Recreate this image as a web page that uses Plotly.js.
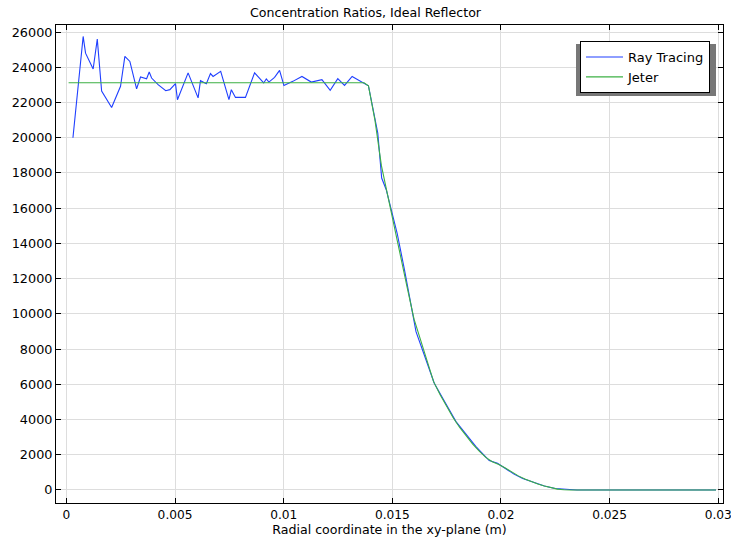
<!DOCTYPE html>
<html>
<head>
<meta charset="utf-8">
<script src="https://cdn.plot.ly/plotly-3.0.1.min.js"></script>
<style>html,body{margin:0;padding:0;background:#fff;}#chart{width:731px;height:541px;}</style>
</head>
<body>
<div id="chart"></div>
<script>
const rayX = [0.0003,0.00077,0.00088,0.00123,0.00142,0.00162,0.00208,0.00249,0.00269,0.00292,
  0.00323,0.00341,0.00369,0.00381,0.00392,0.00422,0.00457,0.00476,0.00502,0.00511,
  0.0056,0.00606,0.00617,0.00644,0.00663,0.00675,0.0071,0.00748,0.00759,0.00778,
  0.00824,0.00866,0.00908,0.0092,0.00932,0.00958,0.00981,0.01001,0.01042,0.01084,
  0.01127,0.01176,0.01214,0.01249,0.0128,0.01315,0.0139,0.01433,0.01451,0.01472,
  0.01522,0.01556,0.01609,0.01647,0.01693,0.01732,0.01793,0.01885,0.01946,0.01984,
  0.02023,0.0206,0.021,0.0215,0.022,0.0225,0.023,0.0235,0.025,0.027,0.0299];
const rayY = [20000,25750,24800,23900,25600,22650,21720,22920,24620,24330,
  22770,23450,23350,23730,23390,23010,22670,22730,23070,22160,
  23680,22260,23240,23070,23640,23480,23770,22160,22730,22290,
  22290,23680,23110,23340,23160,23430,23820,22970,23200,23480,
  23160,23300,22690,23350,22970,23480,22950,20270,17710,17050,
  14590,12500,8990,7670,6060,5210,3880,2460,1670,1520,
  1190,900,650,420,230,80,20,0,0,0,0];

const jeterX = [0.0001,0.0137,0.0139,0.0142,0.0145,0.0148,0.0151,0.0154,0.0157,0.016,
  0.0163,0.0166,0.0169,0.0172,0.0175,0.0178,0.0181,0.0184,0.0187,0.019,
  0.0193,0.0196,0.0199,0.0202,0.0205,0.0208,0.0211,0.0214,0.0217,0.022,
  0.0223,0.0226,0.0229,0.0232,0.025,0.0299];
const jeterY = [23125,23125,22950,21000,18400,16600,14900,13100,11400,9700,
  8500,7300,6150,5400,4750,4100,3550,3050,2600,2200,
  1850,1600,1450,1250,1000,800,620,470,340,230,
  120,50,15,0,0,0];

const traces = [
  {x: rayX, y: rayY, type: 'scatter', mode: 'lines', name: 'Ray Tracing',
   line: {color: '#1f3fff', width: 1.1}},
  {x: jeterX, y: jeterY, type: 'scatter', mode: 'lines', name: 'Jeter',
   line: {color: '#3cb044', width: 1.1}}
];

const fam = 'DejaVu Sans, sans-serif';
const tickFnt = {family: fam, size: 12.8, color: '#000'};
const xTickFnt = {family: fam, size: 12.2, color: '#000'};
const titleFnt = {family: fam, size: 12.6, color: '#000'};
const layout = {
  width: 731, height: 541,
  margin: {l: 56, r: 8, t: 25, b: 38},
  paper_bgcolor: '#fff', plot_bgcolor: '#fff',
  font: tickFnt,
  title: {text: 'Concentration Ratios, Ideal Reflector', font: titleFnt,
    x: 0.5, xanchor: 'center', y: 0.985, yanchor: 'top'},
  xaxis: {range: [-0.00048, 0.03022], dtick: 0.005, tick0: 0, showgrid: true, gridcolor: '#dddddd',
    zeroline: false, showline: true, linecolor: '#000', linewidth: 1, mirror: 'ticks',
    ticks: 'inside', ticklen: 5, tickcolor: '#000', tickfont: xTickFnt, ticklabeloverflow: 'allow',
    title: {text: 'Radial coordinate in the xy-plane (m)', font: titleFnt, standoff: 0}},
  yaxis: {range: [-740, 26400], dtick: 2000, tick0: 0, tickformat: 'd', showgrid: true, gridcolor: '#dddddd',
    zeroline: false, showline: true, linecolor: '#000', linewidth: 1, mirror: 'ticks',
    ticks: 'inside', ticklen: 5, tickcolor: '#000', tickfont: tickFnt, ticklabeloverflow: 'allow'},
  showlegend: true,
  legend: {x: (580-56)/667, y: (503-41)/478, xanchor: 'left', yanchor: 'top', bgcolor: '#fff',
    bordercolor: '#000', borderwidth: 1, font: {family: fam, size: 13, color: '#000'},
    tracegroupgap: 0, itemwidth: 37},
  shapes: [
    {type: 'rect', xref: 'paper', yref: 'paper', layer: 'above',
     x0: (576-56)/667, x1: (716-56)/667, y0: (503-96)/478, y1: (503-44)/478,
     fillcolor: '#777', line: {width: 0}}
  ]
};
Plotly.newPlot('chart', traces, layout, {displayModeBar: false, staticPlot: true});
</script>
</body>
</html>
